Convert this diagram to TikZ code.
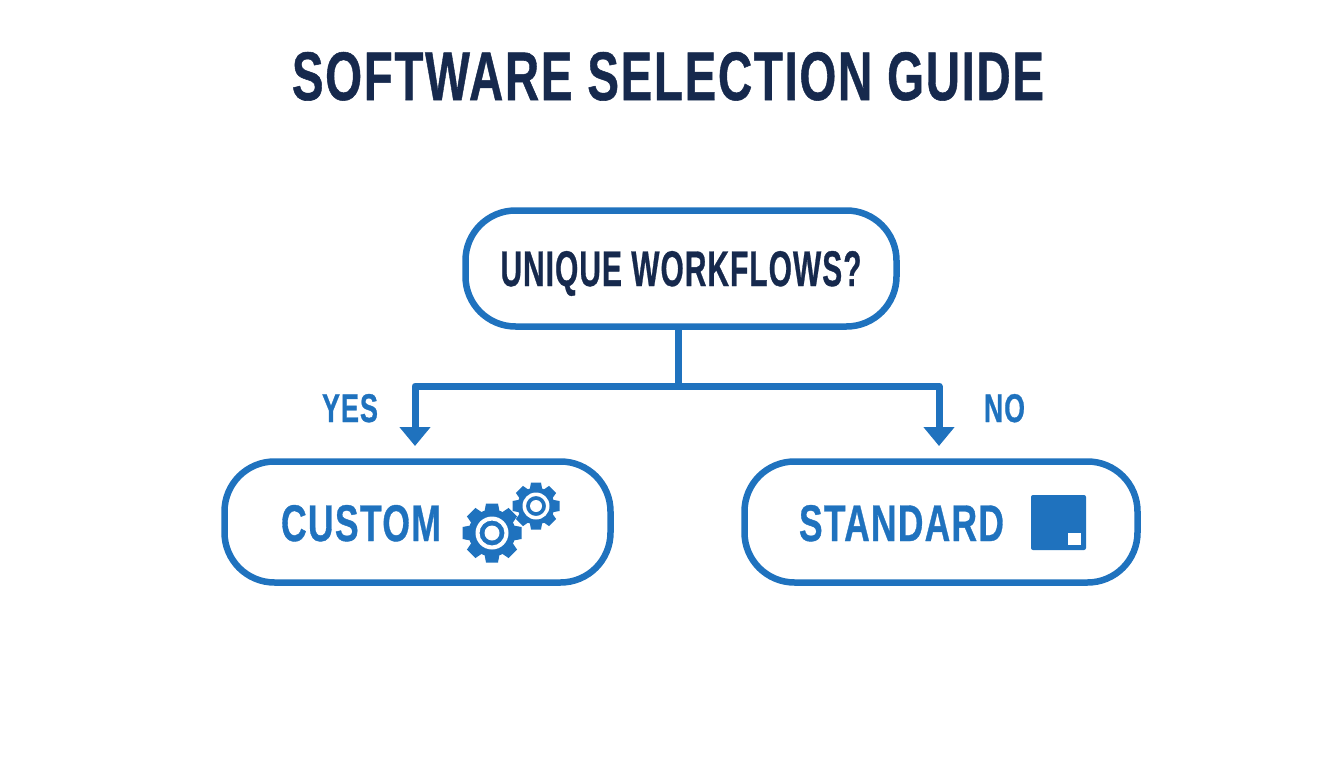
\documentclass[tikz,border=0pt]{standalone}
\usepackage{fontspec}
\usepackage{graphicx}
\setmainfont{Liberation Sans}[BoldFont=* Bold,BoldFeatures={FakeBold=0.8}]
\usetikzlibrary{arrows.meta}
\definecolor{brandblue}{HTML}{1F72BE}
\definecolor{navy}{HTML}{16294D}
\newcommand{\fittext}[3]{\resizebox{#1pt}{#2pt}{\raisebox{0pt}[\height][0pt]{\bfseries\addfontfeatures{LetterSpace=3.5} #3}}}
\newcommand{\geargl}[7]{%
  \begin{scope}[shift={#1}]
    \fill[brandblue] (0,0) circle (#3pt);
    \foreach \a in {0,45,...,315}{
      \fill[brandblue,rotate=\a] (-#7*1.25pt,#3pt-2pt) -- (-#7*1pt,#2pt) -- (#7*1pt,#2pt) -- (#7*1.25pt,#3pt-2pt) -- cycle;
    }
    \fill[white,even odd rule] (0,0) circle (#4pt) (0,0) circle (#5pt);
    \fill[white] (0,0) circle (#6pt);
  \end{scope}}
\tikzset{
  x=1pt,y=-1pt,
  decision/.style={draw=brandblue,line width=6.5pt,rounded corners=50pt,fill=white,inner sep=0pt},
  label/.style={inner sep=0pt,outer sep=0pt},
  conn/.style={draw=brandblue,line width=7pt,line join=round},
  arrowconn/.style={conn,-{Triangle[width=30pt,length=19pt]}}
}
\begin{document}
\begin{tikzpicture}
\useasboundingbox (0,0) rectangle (1344,768);
\fill[white] (0,0) rectangle (1344,768);
\node[label,text=navy] (title) at (668,76) {\fittext{752}{48}{SOFTWARE SELECTION GUIDE}};
\node[decision,minimum width=431pt,minimum height=116pt] (unique) at (681,268.5)
  {\textcolor{navy}{\fittext{361}{35}{UNIQUE WORKFLOWS?}}};
\node[decision,minimum width=386pt,minimum height=121pt] (custom) at (417.5,522) {};
\node[decision,minimum width=393pt,minimum height=121pt] (standard) at (941,522) {};
\node[label,text=brandblue] (customtext) at (361,523) {\fittext{160}{36}{CUSTOM}};
\node[label,text=brandblue] (standardtext) at (901.5,523) {\fittext{205}{36}{STANDARD}};
\node[label,text=brandblue] (yes) at (350,408) {\fittext{56}{28}{YES}};
\node[label,text=brandblue] (no) at (1004.5,408) {\fittext{41}{28}{NO}};
\coordinate (junction) at (678,386);
\coordinate (cornerl) at (415,386);
\coordinate (cornerr) at (939,386);
\coordinate (tipl) at (415,446);
\coordinate (tipr) at (939,446);
\draw[conn] (unique.south -| junction) -- (junction);
\draw[arrowconn] (junction) -- (cornerl) -- (tipl);
\draw[arrowconn] (junction) -- (cornerr) -- (tipr);
\geargl{(492,533)}{29.5}{23.5}{16.5}{12.5}{7.5}{6}
\geargl{(536,506)}{23.5}{18.5}{13.5}{10}{6}{5}
\fill[brandblue,rounded corners=2pt] (1031,495) rectangle (1086,550);
\fill[white] (1068,533) rectangle (1081,545);
\end{tikzpicture}
\end{document}
